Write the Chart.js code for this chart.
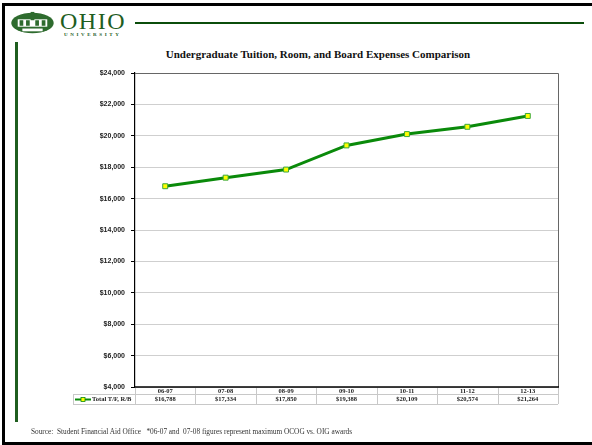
<!DOCTYPE html>
<html>
<head>
<meta charset="utf-8">
<script src="https://cdn.jsdelivr.net/npm/chart.js@4"></script>
<style>
    html, body { margin: 0; padding: 0; background: #fff; }
    #page { position: relative; width: 592px; height: 445px; overflow: hidden; background: #fff; }
    .frame-top { position: absolute; left: 2px; top: 3px; width: 590px; height: 3px; background: #000; }
    .frame-left { position: absolute; left: 2px; top: 3px; width: 3px; height: 442px; background: #000; }
    .frame-bottom { position: absolute; left: 2px; top: 442px; width: 590px; height: 3px; background: #000; }
    .rule-top { position: absolute; left: 135px; top: 22px; width: 449px; height: 2px; background: #0b4d0b; }
    .rule-left { position: absolute; left: 15px; top: 42px; width: 3px; height: 380px; background: #1f5e1f; }
    #logo { position: absolute; left: 8px; top: 11px; }
    .ohio { position: absolute; left: 60px; top: 9px; font-family: "Liberation Serif", serif; font-size: 24px; color: #1f5e1f; letter-spacing: 1.5px; line-height: 24px; }
    .univ { position: absolute; left: 64px; top: 32px; font-family: "Liberation Serif", serif; font-size: 5px; font-weight: bold; color: #1f5e1f; letter-spacing: 2.6px; }
    .title { position: absolute; left: 118px; width: 400px; top: 48px; text-align: center; font-family: "Liberation Serif", serif; font-weight: bold; font-size: 11px; color: #111; }
    .source { position: absolute; left: 31px; top: 427px; font-family: "Liberation Serif", serif; font-size: 7.3px; color: #333; white-space: pre; }
    #chart { position: absolute; left: 0; top: 0; }
</style>
</head>
<body>
<div id="page">
    <div class="frame-top"></div>
    <div class="frame-left"></div>
    <div class="frame-bottom"></div>
    <div class="rule-top"></div>
    <div class="rule-left"></div>
    <svg id="logo" width="49" height="24" viewBox="0 0 48 26">
        <ellipse cx="24" cy="13" rx="23" ry="11" fill="#2e6b2e"/>
        <rect x="8" y="9" width="32" height="8" fill="#fff"/>
        <rect x="10" y="10" width="4" height="6" fill="#2e6b2e"/>
        <rect x="17" y="10" width="4" height="6" fill="#2e6b2e"/>
        <rect x="27" y="10" width="4" height="6" fill="#2e6b2e"/>
        <rect x="34" y="10" width="4" height="6" fill="#2e6b2e"/>
        <rect x="22" y="1" width="4" height="9" fill="#2e6b2e"/>
        <rect x="13" y="19" width="22" height="3" fill="#fff"/>
    </svg>
    <div class="ohio">OHIO</div>
    <div class="univ">UNIVERSITY</div>
    <div class="title">Undergraduate Tuition, Room, and Board Expenses Comparison</div>
    <canvas id="chart" width="592" height="445"></canvas>
    <div class="source">Source:  Student Financial Aid Office   *06-07 and  07-08 figures represent maximum OCOG vs. OIG awards</div>
</div>
<script>
    "use strict";
    const years = ["06-07", "07-08", "08-09", "09-10", "10-11", "11-12", "12-13"];
    const totalCost = [16788, 17334, 17850, 19388, 20109, 20574, 21264];
    const seriesName = "Total T/F, R/B";
    const yMin = 4000;
    const yMax = 24000;
    const yStep = 2000;

    const lineGreen = "#0a8a0a";
    const markerYellow = "#ffff00";

    function money(v) {
        return "$" + Number(v).toLocaleString("en-US");
    }

    // draws the plot frame plus the data table under the x axis
    const tablePlugin = {
        id: "dataTable",
        afterDraw: function (chart) {
            const ctx = chart.ctx;
            const area = chart.chartArea;
            const x = chart.scales.x;
            const row1Top = area.bottom;
            const row1Bottom = area.bottom + 7;
            const row2Bottom = area.bottom + 17;
            const legendLeft = 73;
            const n = years.length;
            const colW = (area.right - area.left) / n;

            ctx.save();
            // plot frame top / right
            ctx.strokeStyle = "#666";
            ctx.lineWidth = 1;
            ctx.beginPath();
            ctx.moveTo(area.left, area.top + 0.5);
            ctx.lineTo(area.right + 0.5, area.top + 0.5);
            ctx.lineTo(area.right + 0.5, area.bottom);
            ctx.stroke();

            // table grid
            ctx.strokeStyle = "#c8c8c8";
            ctx.beginPath();
            ctx.moveTo(legendLeft, row1Bottom + 0.5);
            ctx.lineTo(area.right, row1Bottom + 0.5);
            ctx.moveTo(legendLeft, row2Bottom + 0.5);
            ctx.lineTo(area.right, row2Bottom + 0.5);
            ctx.moveTo(legendLeft + 0.5, row1Bottom);
            ctx.lineTo(legendLeft + 0.5, row2Bottom);
            for (let i = 0; i <= n; i++) {
                const gx = Math.round(area.left + i * colW) + 0.5;
                ctx.moveTo(gx, row1Top);
                ctx.lineTo(gx, row2Bottom);
            }
            ctx.stroke();

            // bottom axis line
            ctx.strokeStyle = "#000";
            ctx.lineWidth = 1.5;
            ctx.beginPath();
            ctx.moveTo(area.left, area.bottom);
            ctx.lineTo(area.right + 1, area.bottom);
            ctx.stroke();

            // table text
            ctx.fillStyle = "#222";
            ctx.textAlign = "center";
            ctx.textBaseline = "middle";
            ctx.font = "bold 6.5px 'Liberation Serif', serif";
            years.forEach(function (y, i) {
                ctx.fillText(y, x.getPixelForValue(i), (row1Top + row1Bottom) / 2 + 0.5);
                ctx.fillText(money(totalCost[i]), x.getPixelForValue(i), (row1Bottom + row2Bottom) / 2 + 0.5);
            });

            // legend key
            const ky = (row1Bottom + row2Bottom) / 2 + 0.5;
            ctx.strokeStyle = lineGreen;
            ctx.lineWidth = 2;
            ctx.beginPath();
            ctx.moveTo(legendLeft + 2, ky);
            ctx.lineTo(legendLeft + 18, ky);
            ctx.stroke();
            ctx.fillStyle = markerYellow;
            ctx.fillRect(legendLeft + 8, ky - 2, 4, 4);
            ctx.strokeStyle = lineGreen;
            ctx.lineWidth = 0.8;
            ctx.strokeRect(legendLeft + 8, ky - 2, 4, 4);
            ctx.fillStyle = "#222";
            ctx.textAlign = "left";
            ctx.fillText(seriesName, legendLeft + 19, ky);
            ctx.restore();
        }
    };

    new Chart(document.getElementById("chart"), {
        type: "line",
        data: {
            labels: years,
            datasets: [
                {
                    label: seriesName,
                    data: totalCost,
                    borderColor: lineGreen,
                    backgroundColor: markerYellow,
                    borderWidth: 3,
                    tension: 0,
                    pointStyle: "rect",
                    pointRadius: 3.5,
                    pointBorderColor: "#3aa83a",
                    pointBorderWidth: 1,
                    pointBackgroundColor: markerYellow,
                },
            ],
        },
        options: {
            responsive: false,
            animation: false,
            layout: {
                padding: { left: 0, top: 73, right: 34, bottom: 58 },
            },
            plugins: {
                legend: { display: false },
                title: { display: false },
                tooltip: { enabled: false },
            },
            scales: {
                x: {
                    offset: true,
                    grid: { display: false },
                    border: { display: false },
                    ticks: { display: false },
                    afterFit: function (scale) {
                        scale.height = 0;
                    },
                },
                y: {
                    min: yMin,
                    max: yMax,
                    ticks: {
                        stepSize: yStep,
                        padding: 6,
                        color: "#222",
                        font: { family: "'Liberation Sans', Arial, sans-serif", size: 7, weight: "bold" },
                        callback: function (v) {
                            return money(v);
                        },
                    },
                    grid: {
                        color: "#cfcfcf",
                        lineWidth: 1,
                        tickLength: 4,
                        tickColor: "#000",
                    },
                    border: { color: "#000", width: 1.2 },
                    afterFit: function (scale) {
                        scale.width = 135;
                    },
                },
            },
        },
        plugins: [tablePlugin],
    });
</script>
</body>
</html>
